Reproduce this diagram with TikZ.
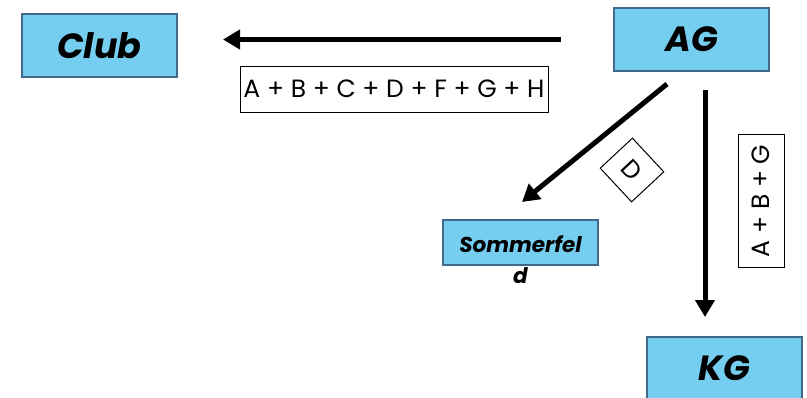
\documentclass[tikz,border=0pt]{standalone}
\usepackage{fontspec}
\setmainfont{Poppins}
\usetikzlibrary{arrows.meta}
\definecolor{boxfill}{RGB}{117,206,240}
\definecolor{boxline}{RGB}{65,105,140}

\begin{document}
\begin{tikzpicture}[x=1pt, y=-1pt,
  entity/.style={draw=boxline, fill=boxfill, line width=2pt, minimum width=155pt, minimum height=63pt,
    font=\fontsize{35}{40}\selectfont\bfseries\itshape},
  flow/.style={line width=5pt, -{Triangle[length=17pt,width=19pt]}},
  tag/.style={draw, line width=1pt, inner sep=1pt, font=\fontsize{25}{30}\selectfont}]
\useasboundingbox (0,0) rectangle (807,397);
% boxes
\node[entity] (club) at (99.5,45.5) {Club};
\node[entity] (ag) at (691.5,39.5) {AG};
\node[entity, minimum height=45pt] (somm) at (520.5,242.5) {};
\node[font=\fontsize{21.5}{31}\selectfont\bfseries\itshape, align=center, anchor=north, inner sep=0pt] (sommtext) at (520.5,235) {Sommerfel\\d};
\node[entity, anchor=north] (kg) at (724.5,336) {KG};
% arrows
\draw[flow, shorten <=52pt, shorten >=45pt] (ag.west) -- (club.east |- ag.west);
\draw[flow] ([xshift=-24.5pt,yshift=-12pt]ag.south) -- ([xshift=1.5pt,yshift=17pt]somm.north);
\draw[flow, shorten >=19pt] ([xshift=13.5pt,yshift=-18pt]ag.south) coordinate (vtop) -- (vtop |- kg.north);
% labels
\node[tag, minimum width=308pt, minimum height=46pt] (all) at (394,89) {A + B + C + D + F + G + H};
\node[tag, rotate=-47, minimum width=46pt, minimum height=44pt] (donly) at (632,170) {D};
\node[tag, rotate=90, minimum width=133pt, minimum height=46pt] (abg) at (761,201) {A + B + G};
\end{tikzpicture}
\end{document}
